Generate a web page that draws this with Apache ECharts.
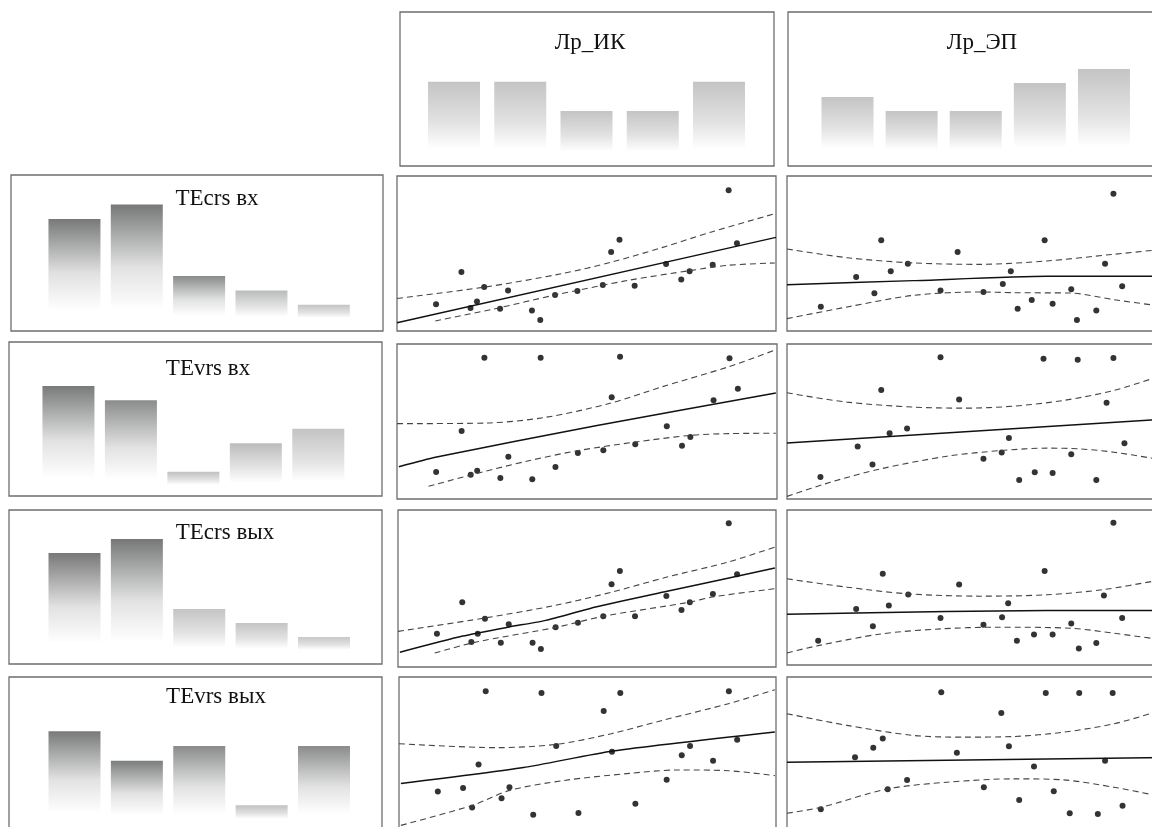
<!DOCTYPE html>
<html><head><meta charset="utf-8">
<script src="https://cdn.jsdelivr.net/npm/echarts@6/dist/echarts.min.js"></script>
<style>html,body{margin:0;padding:0;background:#fff;overflow:hidden}#c{width:1200px;height:880px}</style>
</head><body><div id="c"></div>
<script>
// ---------- DATA ----------
const binLabels = ['1', '2', '3', '4', '5'];
const ikCounts = [5, 5, 3, 3, 5];        // Лр_ИК
const epCounts = [4, 3, 3, 5, 6];        // Лр_ЭП
const crsInCounts = [7, 8, 3, 2, 1];     // TEcrs вх
const vrsInCounts = [7, 6, 1, 3, 4];     // TEvrs вх
const crsOutCounts = [7, 8, 3, 2, 1];    // TEcrs вых
const vrsOutCounts = [6, 4, 5, 1, 5];    // TEvrs вых

// column 1: Лр_ИК values, shared by all rows
const ikX = [10.3, 17.0, 19.4, 21.1, 23.0, 27.2, 29.3, 35.6, 37.8, 41.7, 47.6, 54.3, 56.5, 58.7, 62.7, 71.0, 75.0, 77.2, 83.3, 87.5, 89.7];
const ikCrsInY = [17.2, 38.1, 14.8, 19.1, 28.4, 14.4, 26.2, 13.3, 7.1, 23.2, 25.8, 29.7, 51.0, 58.9, 29.2, 43.2, 33.3, 38.5, 42.8, 90.8, 56.6];
const ikVrsInY = [17.4, 43.9, 15.7, 18.3, 91.2, 13.5, 27.3, 12.7, 91.2, 20.6, 29.7, 31.4, 65.6, 91.8, 35.3, 46.9, 34.4, 40.0, 63.7, 90.8, 71.2];
const ikCrsOutY = [21.2, 41.2, 15.9, 21.2, 30.8, 15.5, 27.2, 15.5, 11.5, 25.3, 28.2, 32.3, 52.7, 61.1, 32.3, 45.2, 36.3, 41.2, 46.5, 91.5, 59.0];
const ikVrsOutY = [27.0, 29.3, 16.8, 44.2, 90.9, 22.7, 29.7, 12.3, 89.8, 56.1, 13.4, 78.3, 52.4, 89.8, 19.3, 34.6, 50.1, 56.1, 46.7, 90.9, 60.1];

// column 2: Лр_ЭП panels, [x, y] pairs
const epCrsIn = [[8.9,15.7],[18.2,34.8],[23.0,24.3],[24.8,58.5],[27.3,38.5],[31.8,43.4],[40.4,26.2],[44.9,51.0],[51.7,25.2],[56.8,30.3],[58.9,38.5],[60.7,14.4],[64.4,20.0],[67.8,58.5],[69.9,17.6],[74.8,26.9],[76.3,7.1],[81.4,13.3],[83.7,43.4],[85.9,88.6],[88.2,28.8]];
const epVrsIn = [[8.8,14.2],[18.6,33.8],[22.5,22.2],[24.8,70.3],[27.0,42.5],[31.6,45.5],[40.4,91.4],[45.3,64.2],[51.7,25.9],[56.5,30.0],[58.4,39.4],[61.1,12.3],[65.2,17.2],[67.5,90.5],[69.9,16.8],[74.8,28.9],[76.5,89.9],[81.4,12.3],[84.1,62.1],[85.9,90.9],[88.8,36.0]];
const epCrsOut = [[8.2,15.7],[18.2,36.2],[22.6,25.0],[25.2,58.8],[26.8,38.4],[31.9,45.5],[40.4,30.4],[45.3,51.9],[51.7,25.9],[56.6,30.8],[58.2,39.9],[60.5,15.7],[65.0,19.6],[67.8,60.6],[69.9,19.6],[74.8,26.7],[76.8,10.6],[81.4,14.2],[83.4,44.8],[85.9,91.8],[88.2,30.4]];
const epVrsOut = [[8.9,14.7],[17.9,48.3],[22.7,54.3],[25.2,60.3],[26.5,27.6],[31.6,33.6],[40.6,90.1],[44.7,51.1],[51.8,28.9],[56.4,76.7],[58.4,55.4],[61.1,20.7],[65.0,42.2],[68.1,89.7],[70.2,26.3],[74.4,12.1],[76.9,89.7],[81.8,11.6],[83.7,45.9],[85.7,89.7],[88.3,17.0]];

// fitted lines and confidence bands
const ikCrsInFit = [[0,5.3],[100,60.4]];
const ikCrsInUpper = [[0,21.0],[23.3,28.4],[43.5,37.0],[56.7,44.5],[69.9,53.8],[83.0,63.9],[99.7,75.7]];
const ikCrsInLower = [[10.1,6.5],[25.9,14.4],[41.7,23.2],[61.1,32.7],[77.7,39.1],[87.4,42.4],[99.7,43.9]];
const ikVrsInFit = [[0.5,20.8],[10.1,26.9],[52.3,47.3],[99.7,68.4]];
const ikVrsInUpper = [[0,48.6],[23.3,49.0],[39.1,52.7],[56.3,61.9],[69.9,72.5],[87.4,85.4],[99.7,96.3]];
const ikVrsInLower = [[8.3,8.2],[21.5,16.8],[34.7,24.7],[47.6,31.2],[62.9,36.8],[77.4,41.1],[87.4,42.2],[99.7,42.4]];
const ikCrsOutFit = [[0.5,9.4],[17.1,19.7],[29.4,25.5],[39.1,29.7],[52.3,38.2],[71.2,48.2],[99.7,63.1]];
const ikCrsOutUpper = [[0,22.7],[22.9,31.2],[41.7,39.3],[56.7,47.8],[71.2,57.3],[87.4,66.9],[99.7,76.4]];
const ikCrsOutLower = [[9.7,8.9],[20.7,15.9],[41.9,25.3],[54.3,32.3],[76.9,41.2],[83.2,44.6],[99.7,49.9]];
const ikVrsOutFit = [[0.5,32.1],[33.0,42.3],[56.7,52.9],[99.7,65.0]];
const ikVrsOutUpper = [[0,57.5],[25.9,55.0],[41.7,57.1],[56.3,63.9],[69.9,72.4],[87.4,83.0],[99.7,91.9]];
const ikVrsOutLower = [[0.5,5.5],[19.5,18.3],[29.4,27.8],[43.5,34.0],[61.1,38.6],[74.3,40.8],[87.4,40.3],[99.7,37.2]];

const epCrsInFit = [[0,29.9],[33.3,32.5],[68.4,35.3],[100,35.3]];
const epCrsInUpper = [[0,52.9],[15.8,47.3],[33.3,43.9],[50.9,43.0],[68.4,45.2],[86.0,49.5],[96.1,52.0],[100,53.0]];
const epCrsInLower = [[0,8.0],[15.8,15.5],[33.3,23.0],[50.9,25.2],[59.6,24.7],[74.6,24.5],[86.0,20.2],[96.1,16.8],[100,15.5]];
const epVrsInFit = [[0,36.2],[100,51.6]];
const epVrsInUpper = [[0,68.5],[15.8,62.5],[33.3,59.3],[46.5,58.6],[59.6,59.9],[72.8,63.6],[86.0,70.0],[96.1,77.6],[100,80.5]];
const epVrsInLower = [[0,1.7],[11.4,10.8],[24.6,19.4],[42.1,27.6],[56.5,31.3],[68.4,32.8],[77.2,32.3],[86.0,30.2],[96.1,26.3],[100,24.5]];
const epCrsOutFit = [[0,32.8],[42.1,34.5],[68.4,35.1],[100,35.1]];
const epCrsOutUpper = [[0,55.6],[15.8,50.2],[31.9,45.9],[50.9,44.4],[68.4,45.3],[83.4,48.7],[96.1,53.9],[100,55.5]];
const epCrsOutLower = [[0,7.8],[8.2,12.5],[24.6,20.0],[40.4,23.3],[55.3,24.4],[74.8,23.7],[86.0,20.5],[96.1,17.2],[100,16.0]];
const epVrsOutFit = [[0,45.0],[100,48.1]];
const epVrsOutUpper = [[0,76.3],[15.8,68.8],[33.3,62.3],[46.5,61.2],[59.6,61.6],[72.8,64.4],[86.0,69.8],[96.1,76.7],[100,79.5]];
const epVrsOutLower = [[0,12.1],[8.9,15.9],[26.5,27.8],[42.1,32.1],[59.6,34.3],[72.8,33.6],[86.0,28.9],[96.1,24.1],[100,22.0]];

// ---------- STYLE / LAYOUT ----------
const FRAME = '#6e6e6e';
const barPanels = [
  {title:'Лр_ИК', counts:ikCounts, box:[400,12,374,154], xr:[0.185,5.83], yr:[-0.75,9.76], tx:590, ty:43,
   shades:['#c4c4c4','#c4c4c4','#c4c4c4','#c4c4c4','#c4c4c4']},
  {title:'Лр_ЭП', counts:epCounts, box:[788,12,382,154], xr:[0.072,6.03], yr:[-0.93,10.07], tx:982, ty:43,
   shades:['#c4c4c4','#c4c4c4','#c4c4c4','#c4c4c4','#c4c4c4']},
  {title:'TEcrs вх', counts:crsInCounts, box:[11,175,372,156], xr:[-0.018,5.95], yr:[-0.84,10.07], tx:217, ty:199,
   shades:['#777979','#777979','#8a8c8c','#b9bbbb','#c2c4c4']},
  {title:'TEvrs вх', counts:vrsInCounts, box:[9,342,373,154], xr:[0.048,6.02], yr:[-0.70,10.08], tx:208, ty:369,
   shades:['#797b7b','#8a8c8c','#c0c0c0','#bcbcbc','#c4c4c4']},
  {title:'TEcrs вых', counts:crsOutCounts, box:[9,510,373,154], xr:[-0.05,5.93], yr:[-0.93,10.07], tx:225, ty:533,
   shades:['#787878','#767878','#c4c4c4','#c4c4c4','#c8c8c8']},
  {title:'TEvrs вых', counts:vrsOutCounts, box:[9,677,373,156], xr:[-0.05,5.93], yr:[-0.88,9.66], tx:216, ty:697,
   shades:['#787a7a','#7c7e7e','#8a8c8c','#c0c0c0','#8a8c8c']}
];
const pairs = (xs, ys) => xs.map((x, i) => [x, ys[i]]);
const scatterPanels = [
  {pts:pairs(ikX, ikCrsInY), fit:ikCrsInFit, up:ikCrsInUpper, lo:ikCrsInLower, box:[397,176,379,155]},
  {pts:epCrsIn, fit:epCrsInFit, up:epCrsInUpper, lo:epCrsInLower, box:[787,176,380,155]},
  {pts:pairs(ikX, ikVrsInY), fit:ikVrsInFit, up:ikVrsInUpper, lo:ikVrsInLower, box:[397,344,380,155]},
  {pts:epVrsIn, fit:epVrsInFit, up:epVrsInUpper, lo:epVrsInLower, box:[787,344,380,155]},
  {pts:pairs(ikX, ikCrsOutY), fit:ikCrsOutFit, up:ikCrsOutUpper, lo:ikCrsOutLower, box:[398,510,378,157]},
  {pts:epCrsOut, fit:epCrsOutFit, up:epCrsOutUpper, lo:epCrsOutLower, box:[787,510,380,155]},
  {pts:pairs(ikX, ikVrsOutY), fit:ikVrsOutFit, up:ikVrsOutUpper, lo:ikVrsOutLower, box:[399,677,377,157]},
  {pts:epVrsOut, fit:epVrsOutFit, up:epVrsOutUpper, lo:epVrsOutLower, box:[787,677,380,155]}
];

// ---------- BUILD ----------
const grid = [], xAxis = [], yAxis = [], series = [], graphic = [];
function addGrid(box, xr, yr) {
  const i = grid.length;
  grid.push({left:box[0], top:box[1], width:box[2], height:box[3], show:true,
    borderColor:FRAME, borderWidth:1.3, backgroundColor:'transparent'});
  xAxis.push({gridIndex:i, type:'value', min:xr[0], max:xr[1], show:false});
  yAxis.push({gridIndex:i, type:'value', min:yr[0], max:yr[1], show:false});
  return i;
}
barPanels.forEach(p => {
  const gi = addGrid(p.box, p.xr, p.yr);
  series.push({type:'bar', xAxisIndex:gi, yAxisIndex:gi, barWidth:52, silent:true,
    data:p.counts.map((c, k) => ({name:binLabels[k], value:[k + 1, c],
      itemStyle:{color:{type:'linear', x:0, y:0, x2:0, y2:1, colorStops:[
        {offset:0, color:p.shades[k]}, {offset:0.55, color:'#e2e2e2'}, {offset:0.92, color:'#ffffff'}, {offset:1, color:'#ffffff'}]}}}))});
  graphic.push({type:'text', x:p.tx, y:p.ty, silent:true,
    style:{text:p.title, font:'23px "Liberation Serif", serif', fill:'#111', textAlign:'center', textVerticalAlign:'middle'}});
});
scatterPanels.forEach(p => {
  const gi = addGrid(p.box, [0, 100], [0, 100]);
  const dash = d => ({type:'line', xAxisIndex:gi, yAxisIndex:gi, data:d, showSymbol:false, smooth:0.3, clip:true, silent:true,
    lineStyle:{color:'#444', width:1.1, type:[6, 4]}});
  series.push(dash(p.up), dash(p.lo));
  series.push({type:'line', xAxisIndex:gi, yAxisIndex:gi, data:p.fit, showSymbol:false, smooth:0.2, clip:true, silent:true,
    lineStyle:{color:'#111', width:1.5}});
  series.push({type:'scatter', xAxisIndex:gi, yAxisIndex:gi, data:p.pts, symbol:'circle', symbolSize:6, silent:true,
    itemStyle:{color:'#000'}});
});

const chart = echarts.init(document.getElementById('c'), null, {renderer:'canvas'});
chart.setOption({animation:false, backgroundColor:'#fff', grid, xAxis, yAxis, series, graphic});
</script></body></html>
